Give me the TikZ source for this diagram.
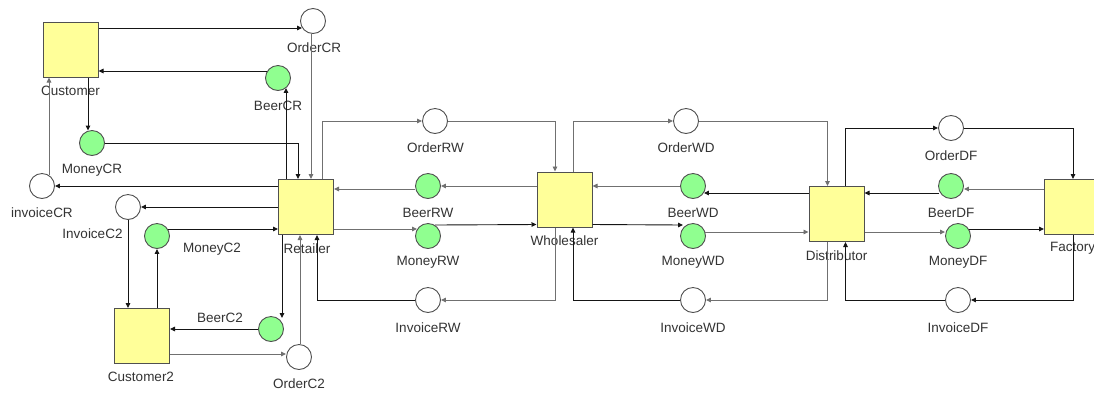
\documentclass[tikz,border=0pt]{standalone}
\usepackage{fontspec}
\setmainfont{Liberation Sans}
\usetikzlibrary{arrows.meta,calc}
\definecolor{boxfill}{HTML}{FFFF99}
\definecolor{greenfill}{HTML}{90FF90}
\definecolor{strokegray}{HTML}{505050}
\definecolor{textgray}{HTML}{333333}
\definecolor{arcblack}{HTML}{151515}
\definecolor{arcgray}{HTML}{707070}
\tikzset{
  trans/.style={draw=strokegray, line width=1pt, fill=boxfill, minimum width=55pt, minimum height=55pt, inner sep=0pt},
  placeW/.style={circle, draw=strokegray, line width=0.9pt, fill=white, minimum size=25pt, inner sep=0pt},
  placeG/.style={circle, draw=strokegray, line width=0.9pt, fill=greenfill, minimum size=25pt, inner sep=0pt},
  lbl/.style={inner sep=0pt, text=textgray, font=\fontsize{13.5}{15}\selectfont},
  blk/.style={draw=arcblack, line width=0.9pt, -{Triangle[length=5pt,width=4.5pt]}},
  gry/.style={draw=arcgray, line width=0.9pt, -{Triangle[length=5pt,width=4.5pt]}},
}
\begin{document}
\begin{tikzpicture}[x=1pt,y=-1pt]
\useasboundingbox (0,0) rectangle (1094,392);
\fill[white] (0,0) rectangle (1094,392);
\clip (0,0) rectangle (1094,392);
% transitions
\node[trans] (Customer) at (70.5,49.5) {};
\node[trans] (Retailer) at (306,207) {};
\node[trans] (Wholesaler) at (564.5,199.5) {};
\node[trans] (Distributor) at (836.5,214) {};
\node[trans] (Factory) at (1072,207) {};
\node[trans] (Customer2) at (142,336) {};
% places
\node[placeW] (OrderCR) at (313,21) {};
\node[placeG] (BeerCR) at (278,78) {};
\node[placeG] (MoneyCR) at (92,143) {};
\node[placeW] (invoiceCR) at (42,186) {};
\node[placeW] (InvoiceC2) at (128,207) {};
\node[placeG] (MoneyC2) at (157,236) {};
\node[placeG] (BeerC2) at (271,329) {};
\node[placeW] (OrderC2) at (299,357) {};
\node[placeW] (OrderRW) at (435,121) {};
\node[placeG] (BeerRW) at (428,186) {};
\node[placeG] (MoneyRW) at (428,236) {};
\node[placeW] (InvoiceRW) at (428,300) {};
\node[placeW] (OrderWD) at (686,121) {};
\node[placeG] (BeerWD) at (693,186) {};
\node[placeG] (MoneyWD) at (693,236) {};
\node[placeW] (InvoiceWD) at (693,300) {};
\node[placeW] (OrderDF) at (951,128) {};
\node[placeG] (BeerDF) at (951,186) {};
\node[placeG] (MoneyDF) at (958,236) {};
\node[placeW] (InvoiceDF) at (958,300) {};
% labels
\node[lbl] (lCustomer) at (70.5,90.5) {Customer};
\node[lbl] (lRetailer) at (307,248.5) {Retailer};
\node[lbl] (lWholesaler) at (564.5,241) {Wholesaler};
\node[lbl] (lDistributor) at (836.5,255.5) {Distributor};
\node[lbl] (lFactory) at (1072.5,248.5) {Factory};
\node[lbl] (lCustomer2) at (141,377) {Customer2};
\node[lbl] (lOrderCR) at (314,48) {OrderCR};
\node[lbl] (lBeerCR) at (278,105.5) {BeerCR};
\node[lbl] (lMoneyCR) at (92,170.5) {MoneyCR};
\node[lbl] (linvoiceCR) at (42,213) {invoiceCR};
\node[lbl] (lInvoiceC2) at (92.5,234) {InvoiceC2};
\node[lbl] (lMoneyC2) at (212,249) {MoneyC2};
\node[lbl] (lBeerC2) at (220,317.5) {BeerC2};
\node[lbl] (lOrderC2) at (299,384) {OrderC2};
\node[lbl] (lOrderRW) at (435.5,148) {OrderRW};
\node[lbl] (lBeerRW) at (428,213) {BeerRW};
\node[lbl] (lMoneyRW) at (428,262.5) {MoneyRW};
\node[lbl] (lInvoiceRW) at (428,327.5) {InvoiceRW};
\node[lbl] (lOrderWD) at (686,148) {OrderWD};
\node[lbl] (lBeerWD) at (693,213) {BeerWD};
\node[lbl] (lMoneyWD) at (693,262.5) {MoneyWD};
\node[lbl] (lInvoiceWD) at (693,327.5) {InvoiceWD};
\node[lbl] (lOrderDF) at (951,155.5) {OrderDF};
\node[lbl] (lBeerDF) at (951,213) {BeerDF};
\node[lbl] (lMoneyDF) at (958,262.5) {MoneyDF};
\node[lbl] (lInvoiceDF) at (958,327.5) {InvoiceDF};
% arcs: customer side
\draw[blk] ($(Customer.north east)+(0,6.5)$) -- ($(OrderCR.west)+(2,7)$);
\draw[gry] ($(OrderCR.south)+(-2,0)$) -- ($(Retailer.north)+(5,0)$);
\draw[blk] ($(BeerCR.west)+(2,-7)$) -- ($(Customer.east)+(0,21.5)$);
\draw[blk] ($(Customer.south)+(17.5,0)$) -- ($(MoneyCR.north)+(-4,0.5)$);
\draw[blk] (MoneyCR.east) -| ($(Retailer.north)+(-8,0)$);
\draw[blk] ($(Retailer.north)+(-20,0)$) -- ($(BeerCR.south)+(8,-3)$);
\draw[blk] ($(Retailer.west)+(0,-21)$) -- (invoiceCR.east);
\draw[gry] ($(invoiceCR.north)+(7,2)$) -- ($(Customer.south)+(-21.5,0)$);
% customer2 side
\draw[blk] (Retailer.west) -- (InvoiceC2.east);
\draw[blk] (InvoiceC2.south) -- ($(Customer2.north)+(-14,0)$);
\draw[blk] ($(Customer2.north)+(15,0)$) -- (MoneyC2.south);
\draw[blk] ($(MoneyC2.east)+(-2,-7)$) -- ($(Retailer.west)+(0,22)$);
\draw[blk] (BeerC2.west) -- ($(Customer2.east)+(0,-7)$);
\draw[blk] ($(Retailer.south)+(-24,0)$) -- ($(BeerC2.north)+(11,2)$);
\draw[gry] ($(Customer2.east)+(0,18)$) -- ($(OrderC2.west)+(0,-3)$);
\draw[gry] ($(OrderC2.north)+(1,0)$) -- ($(Retailer.south)+(-6,0)$);
% retailer - wholesaler
\draw[blk] (InvoiceRW.west) -| ($(Retailer.south)+(11,0)$);
\draw[gry] ($(Retailer.north)+(16,0)$) |- (OrderRW.west);
\draw[gry] (OrderRW.east) -| ($(Wholesaler.north)+(-9.5,0)$);
\draw[gry] ($(Wholesaler.west)+(0,-13.5)$) -- (BeerRW.east);
\draw[gry] ($(BeerRW.west)+(0,3)$) -- ($(Retailer.east)+(0,-18)$);
\draw[gry] ($(Retailer.east)+(0,22)$) -- ($(MoneyRW.west)+(2,-7)$);
\draw[blk] ($(MoneyRW.east)+(-6,-11)$) -- ($(Wholesaler.west)+(0,25)$);
\draw[gry] ($(Wholesaler.south)+(-9.5,0)$) |- (InvoiceRW.east);
% wholesaler - distributor
\draw[gry] ($(Wholesaler.north)+(8.5,0)$) |- (OrderWD.west);
\draw[gry] (OrderWD.east) -| ($(Distributor.north)+(-9,0)$);
\draw[gry] (BeerWD.west) -- ($(Wholesaler.east)+(0,-13.5)$);
\draw[blk] ($(Distributor.west)+(0,-21)$) -- ($(BeerWD.east)+(-2,7)$);
\draw[blk] ($(Wholesaler.east)+(0,25)$) -- ($(MoneyWD.west)+(3,-11)$);
\draw[gry] ($(MoneyWD.east)+(-1,-4)$) -- ($(Distributor.west)+(0,18)$);
\draw[gry] ($(Distributor.south)+(-9,0)$) |- (InvoiceWD.east);
\draw[blk] (InvoiceWD.west) -| ($(Wholesaler.south)+(8.5,0)$);
% distributor - factory
\draw[blk] ($(Distributor.north)+(9,0)$) |- (OrderDF.west);
\draw[blk] (OrderDF.east) -| ($(Factory.north)+(1,0)$);
\draw[gry] ($(Factory.west)+(0,-18)$) -- ($(BeerDF.east)+(0,3)$);
\draw[blk] ($(BeerDF.west)+(1,7)$) -- ($(Distributor.east)+(0,-21)$);
\draw[gry] ($(Distributor.east)+(0,18)$) -- ($(MoneyDF.west)+(0,-4)$);
\draw[blk] ($(MoneyDF.east)+(-2,-7)$) -- ($(Factory.west)+(0,22)$);
\draw[blk] ($(Factory.south)+(1,0)$) |- (InvoiceDF.east);
\draw[blk] (InvoiceDF.west) -| ($(Distributor.south)+(9,0)$);
\end{tikzpicture}
\end{document}
